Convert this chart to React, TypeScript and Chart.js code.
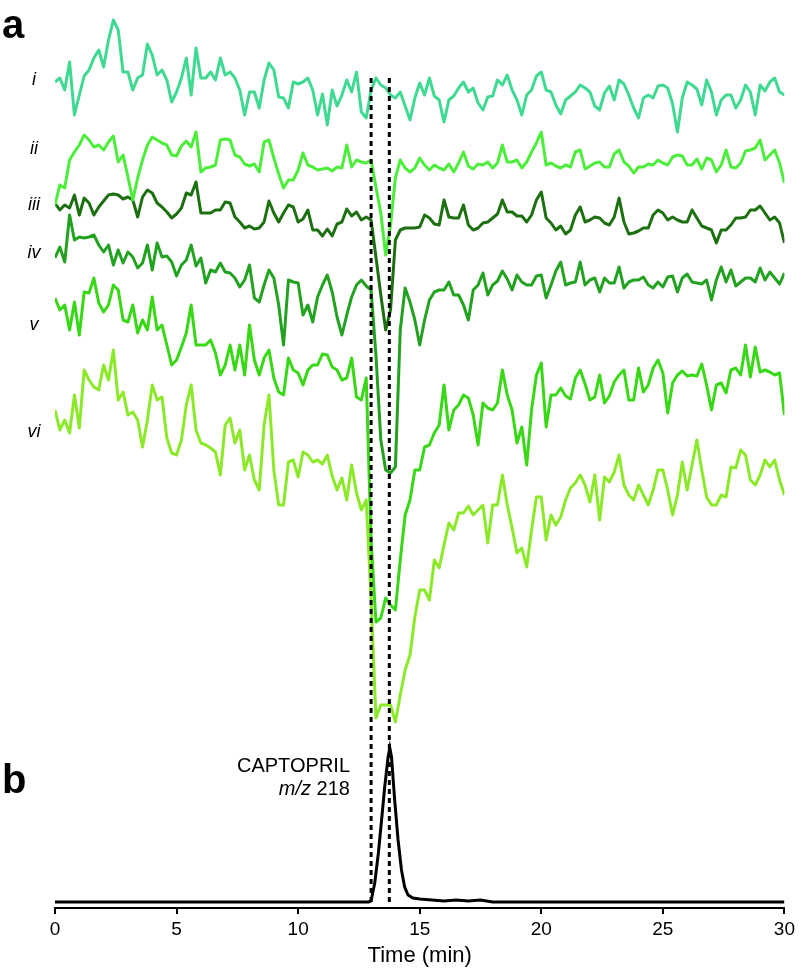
import React, { useEffect, useRef } from "react";
import { Chart, registerables } from "chart.js";

Chart.register(...registerables);

// Sampling interval of the six response traces (min)
const SAMPLE_STEP_MIN = 0.2;

// Response traces (arbitrary stacked units), sampled every SAMPLE_STEP_MIN from 0 to 30 min
const TRACE_I = [
  818, 822, 810, 838, 785, 805, 824, 830, 842, 850, 833, 860, 880, 870, 828, 828, 810, 822, 825, 856,
  845, 825, 830, 820, 798, 808, 822, 842, 805, 852, 822, 822, 828, 820, 842, 825, 828, 822, 810, 785,
  808, 808, 792, 820, 837, 830, 803, 802, 792, 818, 816,
  818, 822, 810, 785, 806, 775, 810, 794, 805, 820, 808, 828, 788, 782, 810, 822, 815, 812, 805, 802,
  808, 794, 780, 802, 817, 805, 822, 804, 800, 778, 800, 804, 812, 818, 808, 812, 797, 790, 803, 804,
  820, 815, 825, 810, 800, 785, 805, 810, 824, 828, 810, 808, 795, 786, 800, 804, 808, 815, 812, 808,
  794, 790, 807, 814, 800, 820, 816, 805, 792, 782, 802, 805, 802, 814, 815, 812, 796, 768, 802, 818,
  815, 811, 795, 820, 808, 785, 800, 805, 805, 792, 800, 815, 808, 785, 815, 809, 818, 822, 808, 805,
];
const TRACE_II = [
  695, 715, 712, 740, 748, 755, 765, 760, 753, 755, 750, 758, 764, 738, 745, 723, 700, 722, 740, 755,
  763, 760, 757, 755, 745, 744, 754, 759, 753, 768, 728, 732, 733, 735, 760, 761, 760, 745, 743, 736,
  734, 736, 728, 758, 760, 742, 726, 712, 720, 720, 730,
  747, 735, 733, 730, 731, 732, 729, 733, 732, 755, 733, 740, 738, 737, 740, 713, 687, 645, 675, 722,
  740, 732, 728, 732, 742, 735, 730, 735, 732, 730, 736, 728, 737, 748, 734, 731, 736, 735, 738, 732,
  737, 755, 738, 738, 740, 732, 738, 748, 757, 768, 735, 737, 734, 732, 735, 733, 748, 750, 731, 734,
  737, 738, 733, 733, 746, 750, 738, 734, 727, 733, 733, 736, 735, 740, 737, 735, 743, 745, 744, 735,
  735, 741, 731, 742, 740, 728, 735, 750, 733, 732, 737, 749, 750, 752, 760, 740, 745, 750, 737, 717,
];
const TRACE_III = [
  697, 690, 695, 692, 705, 685, 702, 697, 685, 693, 699, 705, 706, 705, 701, 703, 700, 683, 703, 710,
  707, 697, 693, 688, 682, 686, 692, 707, 705, 718, 687, 687, 687, 690, 690, 698, 697, 683, 678, 672,
  674, 671, 672, 678, 699, 687, 678, 687, 695, 693, 678,
  681, 690, 670, 670, 664, 671, 664, 676, 678, 691, 684, 688, 680, 683, 680, 643, 605, 570, 590, 660,
  670, 672, 672, 672, 673, 685, 682, 676, 675, 700, 683, 682, 682, 695, 675, 670, 672, 677, 678, 682,
  686, 700, 688, 688, 684, 684, 678, 685, 700, 708, 682, 677, 670, 674, 666, 670, 685, 693, 678, 680,
  683, 682, 677, 675, 683, 702, 678, 666, 667, 669, 672, 672, 685, 690, 687, 680, 683, 680, 678, 678,
  690, 682, 674, 672, 670, 657, 670, 670, 675, 682, 682, 683, 690, 690, 694, 687, 680, 683, 677, 657,
];
const TRACE_IV = [
  642, 653, 638, 685, 660, 663, 662, 663, 665, 655, 648, 655, 635, 650, 637, 648, 643, 632, 637, 655,
  630, 657, 643, 644, 638, 624, 635, 640, 655, 634, 642, 617, 630, 628, 637, 628, 627, 622, 613, 620,
  635, 602, 598, 615, 630, 622, 595, 555, 620, 618, 617,
  585, 595, 578, 603, 615, 625, 608, 583, 565, 585, 603, 615, 620, 614, 610, 545, 460, 430, 427, 433,
  570, 612, 598, 580, 555, 580, 600, 608, 610, 610, 618, 605, 605, 595, 580, 610, 615, 627, 605, 615,
  619, 629, 621, 610, 625, 618, 615, 615, 624, 625, 602, 615, 629, 638, 615, 617, 618, 638, 615, 620,
  622, 608, 622, 617, 617, 633, 612, 618, 620, 620, 623, 615, 612, 618, 613, 623, 624, 608, 622, 626,
  618, 617, 616, 620, 600, 620, 633, 618, 630, 614, 618, 622, 622, 618, 632, 620, 628, 622, 616, 627,
];
const TRACE_V = [
  602, 590, 595, 570, 598, 565, 608, 607, 622, 597, 588, 595, 615, 610, 580, 578, 595, 567, 580, 570,
  603, 570, 575, 555, 535, 540, 553, 567, 595, 555, 555, 555, 560, 547, 525, 535, 555, 530, 555, 525,
  575, 540, 525, 542, 550, 522, 508, 505, 542, 530, 527,
  515, 530, 535, 535, 546, 545, 533, 530, 520, 522, 542, 503, 500, 522, 360, 278, 282, 302, 295, 290,
  340, 385, 400, 430, 430, 453, 455, 467, 475, 515, 470, 490, 495, 505, 502, 485, 455, 497, 492, 490,
  497, 530, 505, 490, 457, 473, 435, 490, 525, 537, 473, 505, 505, 512, 504, 501, 522, 530, 516, 500,
  503, 525, 497, 504, 518, 525, 530, 500, 500, 532, 508, 515, 532, 540, 527, 487, 517, 525, 529, 524,
  525, 524, 536, 515, 490, 515, 517, 507, 530, 532, 525, 555, 523, 553, 528, 530, 528, 525, 527, 485,
];
const TRACE_VI = [
  490, 470, 480, 467, 505, 472, 530, 520, 513, 510, 535, 520, 550, 500, 508, 485, 488, 480, 453, 480,
  515, 500, 503, 462, 447, 445, 460, 495, 515, 470, 457, 455, 452, 448, 425, 475, 482, 457, 470, 430,
  445, 420, 410, 475, 505, 430, 395, 395, 438, 440, 423,
  448, 445, 438, 440, 436, 445, 424, 410, 422, 400, 435, 407, 390, 400, 300, 182, 195, 195, 195, 178,
  205, 230, 245, 283, 310, 310, 300, 340, 332, 355, 377, 370, 387, 387, 394, 385, 390, 395, 357, 395,
  395, 425, 395, 372, 347, 352, 333, 370, 403, 403, 360, 385, 375, 383, 400, 412, 417, 425, 415, 398,
  425, 380, 423, 418, 428, 445, 415, 405, 400, 415, 405, 395, 410, 430, 430, 410, 385, 405, 438, 410,
  435, 460, 430, 403, 395, 395, 405, 403, 433, 432, 450, 445, 420, 415, 425, 440, 433, 440, 420, 405,
];

// Panel b: CAPTOPRIL m/z 218 extracted ion chromatogram
const CAPTOPRIL_TIMES = [
  0, 2, 4, 6, 8, 10, 12, 12.9, 13.0, 13.15, 13.3, 13.42, 13.56, 13.7, 13.77, 13.84, 13.97, 14.11,
  14.25, 14.38, 14.52, 14.72, 15.0, 15.5, 16, 16.5, 17, 17.5, 18, 20, 22, 24, 26, 28, 30,
];
const CAPTOPRIL_SIGNAL = [
  -2, -2, -2, -2, -2, -2, -2, -2, -1, 17, 47, 77, 113, 143, 152, 143, 100, 60, 30, 13, 5, 2, 1, 0, -1,
  0, -1, 0, -2, -2, -2, -2, -2, -2, -2,
];

// Retention-time window markers (min) and their vertical extent
const MARKER_TIMES = [13.0, 13.75];
const MARKER_EXTENT = [822, -5];

const TRACE_NAMES = ["i", "ii", "iii", "iv", "v", "vi"];
const TRACES = [TRACE_I, TRACE_II, TRACE_III, TRACE_IV, TRACE_V, TRACE_VI];
const TRACE_COLORS = ["#3fd992", "#4ded3c", "#1c700f", "#23a222", "#38d816", "#8ce92a"];
const TICK_VALUES = [0, 5, 10, 15, 20, 25, 30];

const FONT = "'Liberation Sans', Arial, Helvetica, sans-serif";

const toPoints = (vals: number[]) =>
  vals.map((y, k) => ({ x: Math.round(k * SAMPLE_STEP_MIN * 100) / 100, y }));

export default function App() {
  const canvasRef = useRef<HTMLCanvasElement | null>(null);

  useEffect(() => {
    document.body.style.margin = "0";
    const canvas = canvasRef.current;
    if (!canvas) return;

    const datasets: any[] = [];
    MARKER_TIMES.forEach((t) => {
      datasets.push({
        data: MARKER_EXTENT.map((y) => ({ x: t, y })),
        borderColor: "#000",
        borderWidth: 3,
        borderDash: [5, 4],
        pointRadius: 0,
        order: 0,
      });
    });
    datasets.push({
      data: CAPTOPRIL_TIMES.map((x, k) => ({ x, y: CAPTOPRIL_SIGNAL[k] })),
      borderColor: "#000",
      borderWidth: 3,
      pointRadius: 0,
      tension: 0,
      order: 1,
    });
    TRACES.forEach((vals, k) => {
      datasets.push({
        label: TRACE_NAMES[k],
        data: toPoints(vals),
        borderColor: TRACE_COLORS[k],
        borderWidth: 3,
        pointRadius: 0,
        tension: 0,
        borderJoinStyle: "round",
        order: 2 + k,
      });
    });

    const chart = new Chart(canvas, {
      type: "line",
      data: { datasets },
      options: {
        responsive: false,
        animation: false,
        devicePixelRatio: 1,
        layout: { padding: { left: 55, right: 14, top: 0, bottom: 0 } },
        plugins: { legend: { display: false }, tooltip: { enabled: false } },
        scales: {
          x: {
            type: "linear",
            min: 0,
            max: 30,
            afterFit: (s: any) => {
              s.height = 63;
            },
            afterBuildTicks: (s: any) => {
              s.ticks = TICK_VALUES.map((v) => ({ value: v }));
            },
            ticks: {
              color: "#000",
              font: { family: FONT, size: 19 },
              padding: 4,
              maxRotation: 0,
              autoSkip: false,
            },
            grid: {
              display: true,
              drawOnChartArea: false,
              drawTicks: true,
              tickLength: 6,
              color: "#000",
              lineWidth: 2,
            },
            border: { display: true, color: "#000", width: 2 },
            title: {
              display: true,
              text: "Time (min)",
              color: "#000",
              font: { family: FONT, size: 22 },
              padding: { top: 0, bottom: 2 },
            },
          },
          y: { type: "linear", display: false, min: -8, max: 900 },
        },
      } as any,
    });
    return () => chart.destroy();
  }, []);

  const label = (text: React.ReactNode, style: React.CSSProperties) => (
    <div
      style={{
        position: "absolute",
        fontFamily: FONT,
        lineHeight: 1,
        color: "#000",
        whiteSpace: "nowrap",
        ...style,
      }}
    >
      {text}
    </div>
  );

  const numeralTops = [70, 139, 195, 243, 315, 422];

  return (
    <div style={{ position: "relative", width: 799, height: 971, background: "#fff" }}>
      <canvas ref={canvasRef} width={799} height={971} style={{ display: "block" }} />
      {label("a", { left: 2, top: 4, fontSize: 40, fontWeight: "bold" })}
      {label("b", { left: 2, top: 759, fontSize: 40, fontWeight: "bold" })}
      {TRACE_NAMES.map((n, k) =>
        label(n, {
          left: 34,
          top: numeralTops[k],
          fontSize: 18,
          fontStyle: "italic",
          transform: "translateX(-50%)",
        })
      )}
      {label("CAPTOPRIL", { right: 449, top: 755, fontSize: 20, textAlign: "right" })}
      {label(
        <span>
          <i>m/z</i> 218
        </span>,
        { right: 449, top: 778, fontSize: 20, textAlign: "right" }
      )}
    </div>
  );
}
